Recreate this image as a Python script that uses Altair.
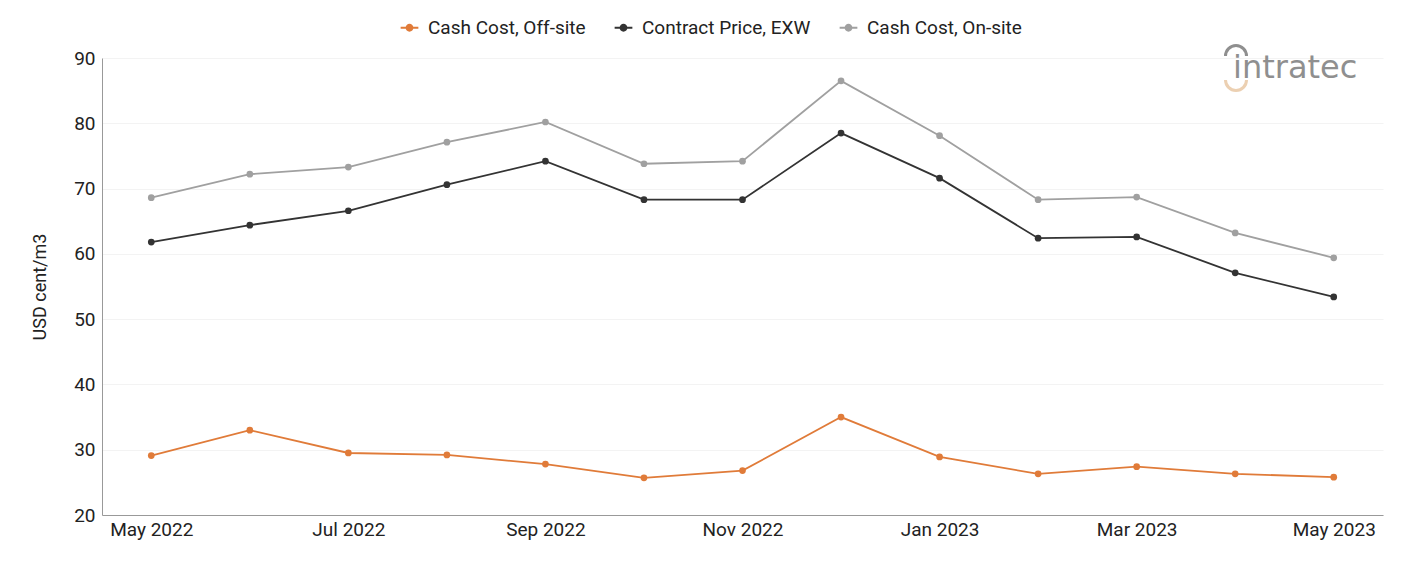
import altair as alt
import pandas as pd
import math

months = ["May 2022", "Jun 2022", "Jul 2022", "Aug 2022", "Sep 2022", "Oct 2022", "Nov 2022",
          "Dec 2022", "Jan 2023", "Feb 2023", "Mar 2023", "Apr 2023", "May 2023"]
off_site = [29.1, 33.0, 29.5, 29.2, 27.8, 25.7, 26.8, 35.0, 28.9, 26.3, 27.4, 26.3, 25.8]
contract = [61.8, 64.4, 66.6, 70.6, 74.2, 68.3, 68.3, 78.5, 71.6, 62.4, 62.6, 57.1, 53.4]
on_site = [68.6, 72.2, 73.3, 77.1, 80.2, 73.8, 74.2, 86.5, 78.1, 68.3, 68.7, 63.2, 59.4]

series_names = ["Cash Cost, Off-site", "Contract Price, EXW", "Cash Cost, On-site"]
series_colors = ["#e07b39", "#333333", "#a0a0a0"]
tick_labels = ["May 2022", "Jul 2022", "Sep 2022", "Nov 2022", "Jan 2023", "Mar 2023", "May 2023"]
y_ticks = [20, 30, 40, 50, 60, 70, 80, 90]

rows = []
for name, vals in zip(series_names, [off_site, contract, on_site]):
    for m, v in zip(months, vals):
        rows.append({"month": m, "series": name, "value": v})
df = pd.DataFrame(rows)

FONT = "Roboto"
FS = 19
symbol_path = "M-1.1,0H1.1M0.36,0A0.36,0.36,0,1,1,-0.36,0A0.36,0.36,0,1,1,0.36,0Z"

base = alt.Chart(df).encode(
    x=alt.X("month:O", sort=months, scale=alt.Scale(type="point", padding=0.5),
            axis=alt.Axis(title=None, values=tick_labels, labelAngle=0, ticks=False,
                          domainColor="#999999", labelFontSize=FS, labelColor="#222222",
                          labelFont=FONT, labelPadding=5, grid=False)),
    y=alt.Y("value:Q", scale=alt.Scale(domain=[20, 90], nice=False, zero=False),
            axis=alt.Axis(title="USD cent/m3", values=y_ticks, labelOverlap=False,
                          ticks=False, domainColor="#999999", gridColor="#f3f3f3",
                          labelFontSize=FS, labelColor="#222222", labelFont=FONT, labelPadding=7,
                          titleFont=FONT, titleFontSize=FS - 1, titleFontWeight="normal",
                          titleColor="#222222", titlePadding=24)),
    color=alt.Color("series:N", scale=alt.Scale(domain=series_names, range=series_colors),
                    legend=alt.Legend(title=None, orient="none", direction="horizontal",
                                      legendX=298, legendY=-40, labelFont=FONT, labelFontSize=FS,
                                      labelColor="#222222", symbolType=symbol_path, labelLimit=400,
                                      symbolSize=260, symbolStrokeWidth=2, columnPadding=24,
                                      labelOffset=9)),
)

lines = base.mark_line(strokeWidth=1.8)
points = base.mark_circle(size=45, opacity=1)

logo = alt.Chart(pd.DataFrame({"t": ["intratec"]})).mark_text(
    font="DejaVu Sans", fontSize=32, color="#8f8f8f", align="left", baseline="middle"
).encode(text="t:N", x=alt.value(1131), y=alt.value(10))
arc_top = alt.Chart(pd.DataFrame({"a": [0]})).mark_arc(
    color="#8f8f8f", radius=12, radius2=9, theta=3 * math.pi / 2, theta2=5 * math.pi / 2
).encode(x=alt.value(1134), y=alt.value(-2))
arc_bot = alt.Chart(pd.DataFrame({"a": [0]})).mark_arc(
    color="#ecd0b2", radius=12, radius2=9, theta=math.pi / 2, theta2=3 * math.pi / 2
).encode(x=alt.value(1134), y=alt.value(22))

chart = alt.layer(lines, points, arc_top, arc_bot, logo).properties(
    width=1281, height=457,
    autosize=alt.AutoSizeParams(type="none"),
    padding={"left": 102, "top": 58, "right": 18, "bottom": 46},
).configure(font=FONT).configure_view(stroke=None)

chart.save("out.html", embed_options={"renderer": "svg", "actions": False})
